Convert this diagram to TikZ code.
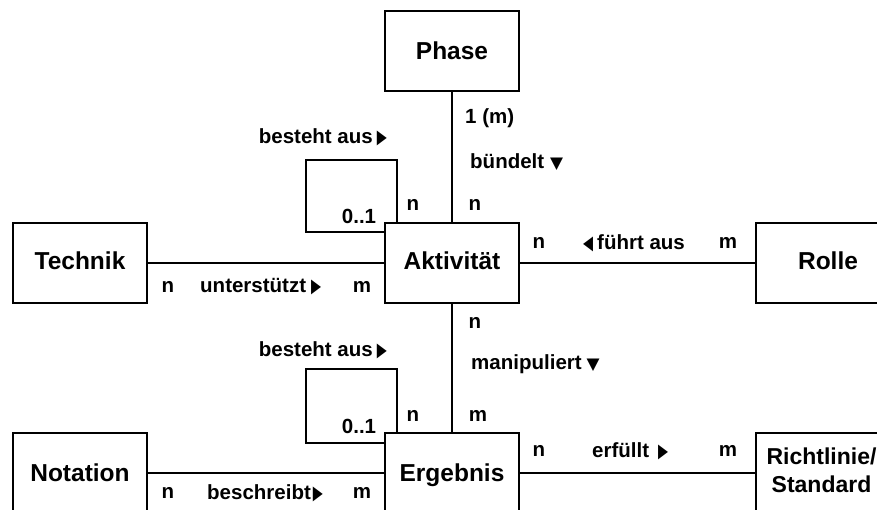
\documentclass[tikz,border=0pt]{standalone}
\usepackage{fontspec}
\usetikzlibrary{calc}
\setmainfont{Liberation Sans}
\newfontfamily\symf{DejaVu Sans}
% small filled direction triangles used in the association names
\newcommand{\rtri}{\resizebox{10pt}{12.5pt}{\symf ▶}}
\newcommand{\dtri}{\resizebox{13pt}{10.5pt}{\symf ▼}}
\newcommand{\ltri}{\resizebox{10pt}{12.5pt}{\symf ◀}}
\begin{document}
\begin{tikzpicture}[x=1pt,y=-1pt,
  entity/.style={draw,fill=white,line width=2pt,minimum width=134pt,minimum height=80pt,
    inner sep=0pt,text height=17.5pt,text depth=0pt,
    font=\fontsize{24.5}{28}\selectfont\bfseries},
  upper/.style={text depth=5pt},
  rel/.style={line width=2pt},
  lbl/.style={inner sep=0pt,font=\fontsize{20.5}{24}\selectfont\bfseries}]
\useasboundingbox (0,0) rectangle (877,510);
\clip (0,0) rectangle (877,510);

% corner points of the self-association loops
\coordinate (loopA) at (306,160);
\coordinate (loopE) at (306,369);

% loops first, so that the entity boxes cover their inner corner
\path (452,263) coordinate (aktc) (452,473) coordinate (ergc);
\draw[rel] ($(aktc)+(-55,-40)$) |- (loopA) |- ($(aktc)+(-67,-31)$);
\draw[rel] ($(ergc)+(-55,-40)$) |- (loopE) |- ($(ergc)+(-67,-30)$);

% entities
\node[entity] (phase) at (452,51) {Phase};
\node[entity,upper] (akt) at (aktc) {Aktivität};
\node[entity,upper] (tech) at (80,263) {Technik};
\node[entity,upper,minimum width=144pt] (rolle) at (828,263) {Rolle};
\node[entity] (erg) at (ergc) {Ergebnis};
\node[entity] (nota) at (80,473) {Notation};
\node[entity,text height=,text depth=,font=\fontsize{23}{28}\selectfont\bfseries]
  (richt) at (823,473) {\kern-3pt\raisebox{-2.5pt}{\begin{tabular}{@{}c@{}}Richtlinie/\\Standard\end{tabular}}};

% connectors
\draw[rel] (phase) -- (akt);
\draw[rel] (tech) -- (akt);
\draw[rel] (akt) -- (rolle);
\draw[rel] (akt) -- (erg);
\draw[rel] (nota) -- (erg);
\draw[rel] (erg.east) -- (erg.east -| richt.west);

% Phase -- Aktivität
\node[lbl,anchor=west] (l1) at (465,118) {1 (m)};
\node[lbl,anchor=west] (l2) at (470,162) {bündelt\kern6pt\dtri};
\node[lbl] (l3) at (475,205) {n};
% Aktivität loop
\node[lbl,anchor=east] (l4) at (387,137) {besteht aus\kern4pt\rtri};
\node[lbl] (l5) at (413,205) {n};
\node[lbl] (l6) at (359,216) {0..1};
% Aktivität -- Rolle
\node[lbl] (l7) at (539,243) {n};
\node[lbl,anchor=west] (l8) at (583,243) {\ltri\kern4pt führt aus};
\node[lbl] (l9) at (728,243) {m};
% Technik -- Aktivität
\node[lbl] (l10) at (168,287) {n};
\node[lbl,anchor=west] (l11) at (200,287) {unterstützt\kern5pt\rtri};
\node[lbl] (l12) at (362,287) {m};
% Aktivität -- Ergebnis
\node[lbl] (l13) at (475,323) {n};
\node[lbl,anchor=west] (l14) at (471,364) {manipuliert\kern5pt\dtri};
\node[lbl] (l15) at (478,416) {m};
% Ergebnis loop
\node[lbl,anchor=east] (l16) at (387,350) {besteht aus\kern4pt\rtri};
\node[lbl] (l17) at (413,416) {n};
\node[lbl] (l18) at (359,426) {0..1};
% Ergebnis -- Richtlinie/Standard
\node[lbl] (l19) at (539,451) {n};
\node[lbl,anchor=west] (l20) at (592,451) {erfüllt\kern9pt\rtri};
\node[lbl] (l21) at (728,451) {m};
% Notation -- Ergebnis
\node[lbl] (l22) at (168,493) {n};
\node[lbl,anchor=west] (l23) at (207,493) {beschreibt\kern2pt\rtri};
\node[lbl] (l24) at (362,493) {m};
\end{tikzpicture}
\end{document}
